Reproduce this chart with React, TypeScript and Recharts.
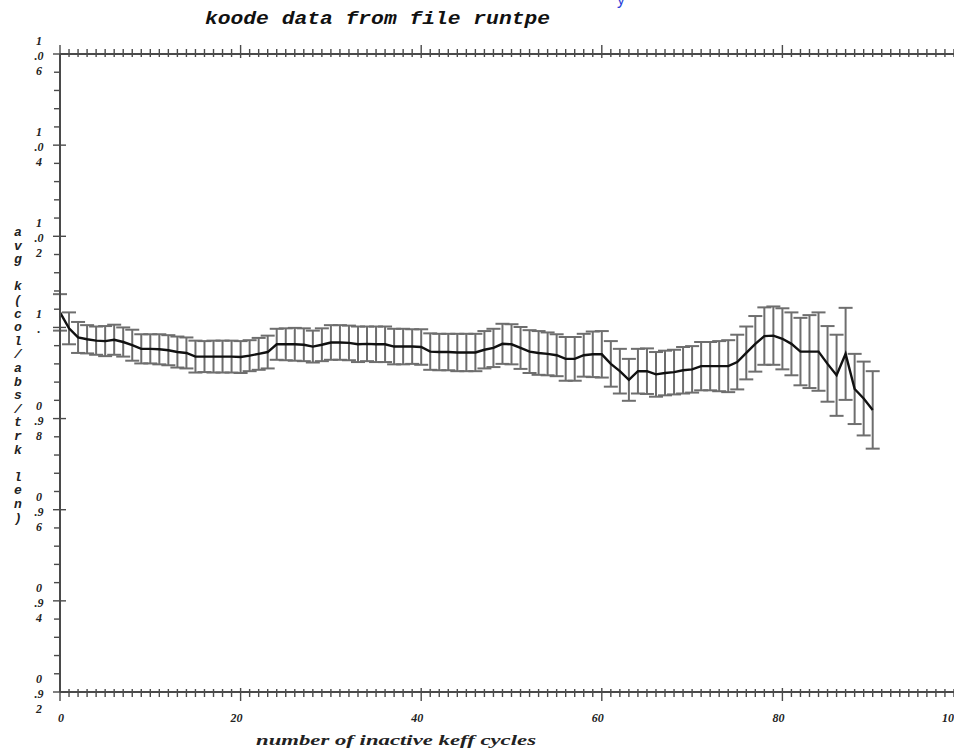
import { LineChart, Line, XAxis, YAxis, ErrorBar } from 'recharts';

// avg k per inactive cycle (cycles 0..90)
const kAvg = [
  1.0033, 0.9998, 0.9978, 0.9974, 0.9971, 0.997, 0.9973, 0.9968, 0.9961, 0.9953,
  0.9953, 0.9952, 0.995, 0.9946, 0.9944, 0.9936, 0.9936, 0.9936, 0.9936, 0.9936,
  0.9935, 0.9938, 0.9942, 0.9946, 0.9963, 0.9963, 0.9963, 0.9962, 0.9958, 0.9962,
  0.9967, 0.9967, 0.9966, 0.9963, 0.9964, 0.9963, 0.9963, 0.9958, 0.9958, 0.9958,
  0.9957, 0.9947, 0.9946, 0.9946, 0.9945, 0.9945, 0.9945, 0.9951, 0.9955, 0.9964,
  0.9963, 0.9955, 0.9947, 0.9944, 0.9942, 0.9939, 0.9931, 0.9931, 0.9939, 0.9941,
  0.9941, 0.992, 0.9904, 0.9885, 0.9904, 0.9904, 0.9897, 0.99, 0.9902, 0.9906,
  0.9908, 0.9915, 0.9915, 0.9915, 0.9915, 0.9924, 0.9944, 0.9964, 0.9981, 0.9982,
  0.9975, 0.9964, 0.9947, 0.9947, 0.9947, 0.992, 0.9895, 0.9942, 0.9865, 0.9844,
  0.9819,
];

// one-sigma error per cycle
const kErr = [
  0.004, 0.0035, 0.0034, 0.0031, 0.0031, 0.0033, 0.0033, 0.0032, 0.0034, 0.0032,
  0.0032, 0.0033, 0.0033, 0.0034, 0.0034, 0.0035, 0.0034, 0.0035, 0.0035, 0.0035,
  0.0035, 0.0034, 0.0035, 0.0036, 0.0034, 0.0035, 0.0036, 0.0036, 0.0035, 0.0036,
  0.0038, 0.0038, 0.0038, 0.0039, 0.0038, 0.0039, 0.0039, 0.0039, 0.0039, 0.0038,
  0.0039, 0.004, 0.004, 0.004, 0.0041, 0.0041, 0.0041, 0.0041, 0.0042, 0.0044,
  0.0044, 0.0046, 0.0047, 0.0048, 0.0047, 0.0046, 0.0048, 0.0048, 0.0047, 0.005,
  0.0051, 0.005, 0.0049, 0.0046, 0.0049, 0.005, 0.0049, 0.0049, 0.0049, 0.0051,
  0.0051, 0.0053, 0.0053, 0.0055, 0.0057, 0.006, 0.0058, 0.0061, 0.0063, 0.0064,
  0.0067, 0.0069, 0.0074, 0.008, 0.0086, 0.0083, 0.0089, 0.0101, 0.0077, 0.0081,
  0.0085,
];

const cycles = kAvg.map((_, i) => i);

// axis ticks: every cycle on x, every 0.004 on y; labelled majors
const xTicks = Array.from({ length: 101 }, (_, i) => i);
const xMajor = [0, 20, 40, 60, 80, 100];
const yTicks = Array.from({ length: 36 }, (_, i) => Math.round((0.92 + i * 0.004) * 1000) / 1000);
const yMajor = [0.92, 0.94, 0.96, 0.98, 1.0, 1.02, 1.04, 1.06];
const yMajorLabels = ['0.92', '0.94', '0.96', '0.98', '1.', '1.02', '1.04', '1.06'];

const title = 'koode data from file runtpe';
const xTitle = 'number of inactive keff cycles';
const yTitle = 'avg k(col/abs/trk len)';

const data = cycles.map((c, i) => ({ cycle: c, k: kAvg[i], err: kErr[i] }));

const AXIS = '#4a4a4a';
const labelFont = {
  fontFamily: '"Liberation Serif", serif',
  fontStyle: 'italic',
  fontWeight: 700,
  fontSize: 12,
  fill: '#222',
};

const BottomTick = (props: any) => {
  const { x, y, payload } = props;
  const major = xMajor.includes(payload.value);
  const digits = String(payload.value).length;
  const shift = digits === 1 ? 1 : digits === 2 ? -4 : -12;
  return (
    <g>
      <line x1={x} x2={x} y1={y - (major ? 4 : 3)} y2={y + (major ? 9 : 5)} stroke={AXIS} strokeWidth={1.4} />
      {major && (
        <text x={x + shift} y={y + 30} textAnchor="middle" {...labelFont}>
          {payload.value}
        </text>
      )}
    </g>
  );
};

const TopTick = (props: any) => {
  const { x, y, payload } = props;
  const major = xMajor.includes(payload.value);
  return <line x1={x} x2={x} y1={y + (major ? 4 : 3)} y2={y - (major ? 9 : 5)} stroke={AXIS} strokeWidth={1.4} />;
};

const LeftTick = (props: any) => {
  const { x, y, payload } = props;
  const idx = yMajor.findIndex((v) => Math.abs(v - payload.value) < 1e-6);
  const major = idx >= 0;
  const s = major ? yMajorLabels[idx] : '';
  const lines = major ? [s[0], s.slice(1, 3), s.slice(3)].filter((t) => t.length > 0) : [];
  return (
    <g>
      <line x1={x - (major ? 7 : 6)} x2={x + (major ? 6 : 0)} y1={y} y2={y} stroke={AXIS} strokeWidth={1.4} />
      {lines.map((t, i) => (
        <text key={i} x={x - 21} y={y - 9 + i * 15} textAnchor="middle" {...labelFont}>
          {t}
        </text>
      ))}
    </g>
  );
};

const App = () => {
  return (
    <div
      style={{
        position: 'absolute',
        left: 0,
        top: 0,
        width: 954,
        height: 751,
        overflow: 'hidden',
        background: '#fff',
      }}
    >
      <LineChart width={990} height={751} data={data} margin={{ top: 53, right: 27, left: 59, bottom: 58 }}>
        <XAxis
          dataKey="cycle"
          type="number"
          domain={[0, 100]}
          ticks={xTicks}
          interval={0}
          height={1}
          tickSize={0}
          tickMargin={0}
          tickLine={false}
          axisLine={{ stroke: AXIS, strokeWidth: 2 }}
          tick={<BottomTick />}
        />
        <XAxis
          xAxisId="top"
          orientation="top"
          dataKey="cycle"
          type="number"
          domain={[0, 100]}
          ticks={xTicks}
          interval={0}
          height={1}
          tickSize={0}
          tickMargin={0}
          tickLine={false}
          axisLine={{ stroke: AXIS, strokeWidth: 2 }}
          tick={<TopTick />}
        />
        <YAxis
          type="number"
          domain={[0.92, 1.06]}
          allowDataOverflow
          ticks={yTicks}
          interval={0}
          width={1}
          tickSize={0}
          tickMargin={0}
          tickLine={false}
          axisLine={{ stroke: AXIS, strokeWidth: 2 }}
          tick={<LeftTick />}
        />
        <Line dataKey="k" stroke="none" dot={false} isAnimationActive={false} type="linear">
          <ErrorBar dataKey="err" direction="y" width={7} stroke="#6e6e6e" strokeWidth={2} isAnimationActive={false} />
        </Line>
        <Line dataKey="k" stroke="#111" strokeWidth={2.4} dot={false} isAnimationActive={false} type="linear" />
      </LineChart>
      <svg
        width={954}
        height={751}
        style={{ position: 'absolute', left: 0, top: 0, pointerEvents: 'none' }}
      >
        <text x={617} y={5} fill="#2a3fd8" fontFamily='"Liberation Sans", sans-serif' fontSize={16}>
          y
        </text>
        <text
          x={205}
          y={24}
          textLength={345}
          lengthAdjust="spacingAndGlyphs"
          fontFamily='"Liberation Mono", monospace'
          fontStyle="italic"
          fontWeight={700}
          fontSize={19}
          fill="#111"
        >
          {title}
        </text>
        <text
          x={256}
          y={745}
          textLength={280}
          lengthAdjust="spacingAndGlyphs"
          fontFamily='"Liberation Serif", serif'
          fontStyle="italic"
          fontWeight={700}
          fontSize={15}
          fill="#222"
        >
          {xTitle}
        </text>
        <text
          x={18}
          y={236}
          textAnchor="middle"
          fontFamily='"Liberation Mono", monospace'
          fontStyle="italic"
          fontWeight={700}
          fontSize={13}
          fill="#222"
        >
          {yTitle.split('').map((ch, i) => (
            <tspan key={i} x={18} dy={i === 0 ? 0 : 13.6}>
              {ch === ' ' ? '\u00a0' : ch}
            </tspan>
          ))}
        </text>
      </svg>
    </div>
  );
};

export default App;
